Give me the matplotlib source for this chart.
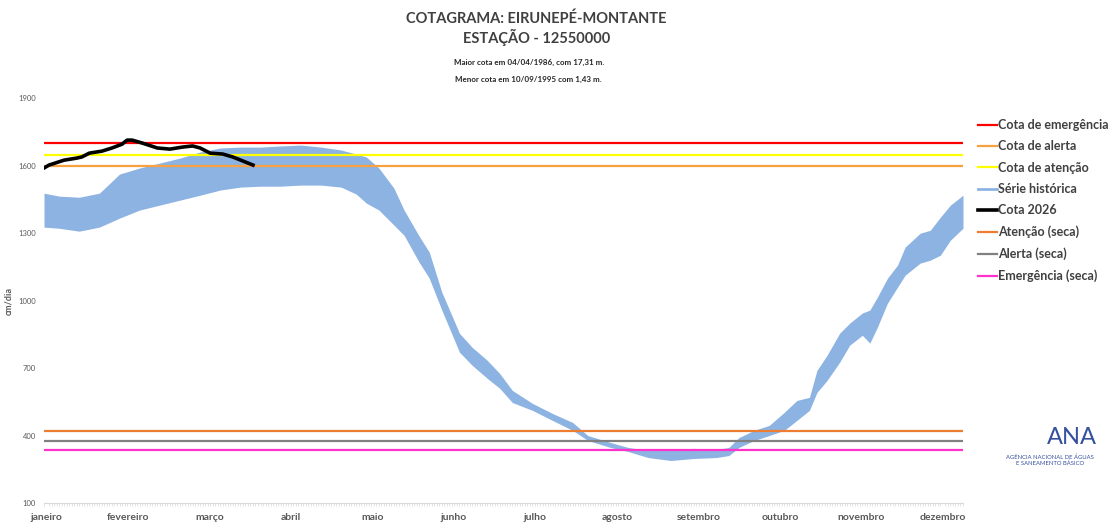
import matplotlib
matplotlib.use("Agg")
import matplotlib.pyplot as plt
from matplotlib.lines import Line2D
import numpy as np

plt.rcParams['font.family'] = ['Lato', 'DejaVu Sans']

# --- data (day of year, cm) ---
band_day = [0, 6, 14, 22, 30, 38, 46, 54, 62, 70, 78, 86, 94, 102, 110, 118, 124, 128,
            133, 139, 143, 149, 153, 158, 165, 170, 176, 181, 186, 194, 202, 210, 216,
            225, 232, 240, 249, 258, 267, 272, 276, 282, 288, 294, 299, 304, 307, 311,
            316, 320, 325, 328, 331, 335, 339, 342, 348, 352, 356, 360, 365]
band_top = [1478, 1465, 1460, 1478, 1563, 1590, 1612, 1634, 1661, 1679, 1683, 1683, 1688,
            1692, 1683, 1670, 1652, 1639, 1590, 1500, 1403, 1287, 1216, 1038, 855, 793,
            735, 676, 601, 543, 498, 458, 400, 369, 347, 334, 334, 343, 338, 347, 391,
            423, 445, 503, 556, 570, 690, 757, 855, 900, 945, 958, 1016, 1100, 1158,
            1238, 1300, 1313, 1371, 1425, 1469]
band_bot = [1327, 1322, 1309, 1327, 1367, 1403, 1425, 1447, 1469, 1492, 1505, 1509, 1509,
            1514, 1514, 1505, 1474, 1434, 1403, 1336, 1291, 1171, 1100, 958, 771, 713,
            655, 610, 547, 512, 467, 423, 378, 347, 329, 302, 289, 298, 302, 311, 347,
            378, 400, 423, 467, 512, 592, 645, 726, 802, 846, 811, 882, 989, 1060, 1113,
            1167, 1180, 1202, 1269, 1322]

cota_day = [0, 2, 8, 13, 15, 18, 23, 27, 31, 33, 35, 39, 45, 50, 55, 59, 62, 66, 71, 75, 79, 83]
cota_2026 = [1590, 1603, 1625, 1634, 1639, 1656, 1665, 1679, 1696, 1714, 1714, 1701, 1679,
             1674, 1683, 1688, 1679, 1656, 1652, 1639, 1621, 1603]

cota_emergencia = 1700
cota_alerta = 1600
cota_atencao = 1650
atencao_seca = 420
alerta_seca = 375
emergencia_seca = 335

meses = ['janeiro', 'fevereiro', 'março', 'abril', 'maio', 'junho', 'julho',
         'agosto', 'setembro', 'outubro', 'novembro', 'dezembro']

fig = plt.figure(figsize=(11.13, 5.25), dpi=100)
ax = fig.add_axes([44/1113, 1-503/525, (963-44)/1113, (503-98.3)/525])

ax.fill_between(band_day, band_bot, band_top, color='#8DB3E2', lw=0, zorder=1,
                label='Série histórica')
ax.axhline(cota_emergencia, color='#FF0000', lw=1.6, zorder=2, label='Cota de emergência')
ax.axhline(cota_alerta, color='#F9A03F', lw=1.6, zorder=2, label='Cota de alerta')
ax.axhline(cota_atencao, color='#FFFF00', lw=1.6, zorder=2, label='Cota de atenção')
ax.plot(cota_day, cota_2026, color='black', lw=2.6, zorder=4, label='Cota 2026')
ax.axhline(atencao_seca, color='#ED7D31', lw=1.6, zorder=2, label='Atenção (seca)')
ax.axhline(alerta_seca, color='#808080', lw=1.6, zorder=2, label='Alerta (seca)')
ax.axhline(emergencia_seca, color='#FF33CC', lw=1.6, zorder=2, label='Emergência (seca)')

ax.set_xlim(0, 365)
ax.set_ylim(100, 1900)
ax.set_yticks(range(100, 1901, 300))
ax.tick_params(axis='y', length=0, labelsize=5.5, labelcolor='#595959', pad=6)
ax.set_xticks(np.linspace(1, 357, 12))
ax.set_xticklabels(meses, fontsize=7.5, color='#595959', fontweight='bold')
ax.set_xticks(np.arange(0, 366, 1), minor=True)
ax.tick_params(axis='x', which='major', length=0, pad=7)
ax.tick_params(axis='x', which='minor', length=2, color='#D9D9D9', width=0.5)
for s in ['top', 'right', 'left']:
    ax.spines[s].set_visible(False)
ax.spines['bottom'].set_color('#D9D9D9')
ax.set_ylabel('cm/dia', fontsize=6.5, color='#595959', fontweight='bold', labelpad=2)
ax.yaxis.set_label_coords(-0.034, 0.5)

handles, labels = ax.get_legend_handles_labels()
order = ['Cota de emergência', 'Cota de alerta', 'Cota de atenção', 'Série histórica',
         'Cota 2026', 'Atenção (seca)', 'Alerta (seca)', 'Emergência (seca)']
hmap = dict(zip(labels, handles))
hmap['Série histórica'] = Line2D([], [], color='#8DB3E2', lw=2)
leg = fig.legend([hmap[k] for k in order], order, loc='upper left',
                 bbox_to_anchor=(967/1113, 1-108/525), frameon=False,
                 handlelength=1.5, handletextpad=0.1, labelspacing=0.74,
                 prop={'weight': 'bold', 'size': 9})
for t in leg.get_texts():
    t.set_color('#404040')

fig.text(0.482, 0.965, 'COTAGRAMA: EIRUNEPÉ-MONTANTE', ha='center', va='center',
         fontsize=10.5, fontweight='bold', color='#404040')
fig.text(0.482, 0.928, 'ESTAÇÃO - 12550000', ha='center', va='center',
         fontsize=10.5, fontweight='bold', color='#404040')
fig.text(0.475, 0.882, 'Maior cota em 04/04/1986, com 17,31 m.', ha='center', va='center',
         fontsize=5.8, color='#262626', fontweight='bold')
fig.text(0.475, 0.848, 'Menor cota em 10/09/1995 com 1,43 m.', ha='center', va='center',
         fontsize=5.8, color='#262626', fontweight='bold')

# logo ANA
fig.text(1072/1113, 1-437/525, 'ANA', ha='center', va='center', fontsize=17,
         color='#34509E')
fig.text(1050/1113, 1-460/525, 'AGÊNCIA NACIONAL DE ÁGUAS\nE SANEAMENTO BÁSICO',
         ha='center', va='center', fontsize=4.2, color='#34509E', linespacing=1.2)

fig.savefig('out.png', dpi=100)
